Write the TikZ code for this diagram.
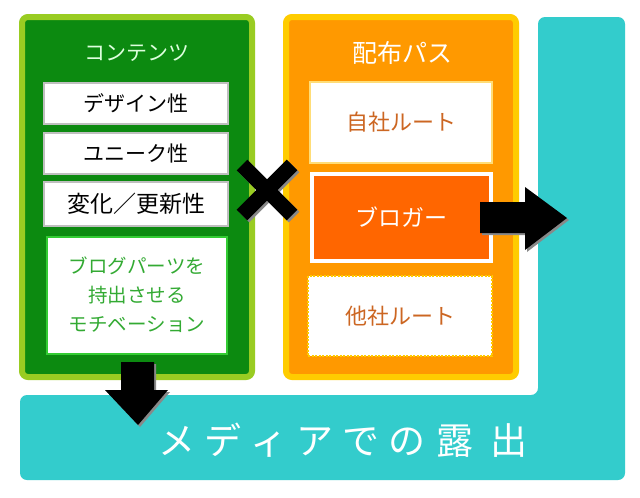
\documentclass[tikz,border=0pt]{standalone}
\usepackage{fontspec}
\setmainfont{Noto Sans CJK JP}
\definecolor{lgreen}{HTML}{99CC22}
\definecolor{dgreen}{HTML}{0C8A10}
\definecolor{pgreen}{HTML}{DDFFDD}
\definecolor{tgreen}{HTML}{33AA33}
\definecolor{bgreen}{HTML}{33CC33}
\definecolor{yborder}{HTML}{FFCC00}
\definecolor{ofill}{HTML}{FF9900}
\definecolor{dorange}{HTML}{FF6600}
\definecolor{otext}{HTML}{CC6622}
\definecolor{lyellow}{HTML}{FFDD77}
\definecolor{teal}{HTML}{33CCCC}
\definecolor{shadowgray}{HTML}{888888}
\tikzset{
  outerbox/.style={line width=6pt, rounded corners=6pt, minimum width=230pt, minimum height=360pt, inner sep=0pt},
  whitebox/.style={draw=black!25, line width=1.5pt, fill=white, inner sep=0pt, font=\fontsize{21}{25}\selectfont},
  routebox/.style={fill=white, inner sep=0pt, minimum width=182pt, text=otext, font=\fontsize{22}{26}\selectfont},
  titletext/.style={font=\fontsize{21}{25}\selectfont},
  bigarrow/.style={fill=black},
  arrowshadow/.style={fill=shadowgray},
}
\begin{document}
\begin{tikzpicture}[x=1pt,y=-1pt]
\useasboundingbox (0,0) rectangle (640,498);
\fill[white] (0,0) rectangle (640,498);
% teal L-shape
\fill[teal, rounded corners=7pt] (538,17) -- (625,17) -- (625,480) -- (20,480) -- (20,395) -- (538,395) -- cycle;
\node[text=white, font=\fontsize{37}{40}\selectfont] (media) at (343,440)
  {メ\hspace{9pt}デ\hspace{9pt}ィ\hspace{9pt}ア\hspace{9pt}で\hspace{9pt}の\hspace{11pt}露\hspace{17pt}出};
% green container
\node[outerbox, draw=lgreen, fill=dgreen] (cont) at (137,197) {};
\node[titletext, text=pgreen] (conttitle) at (137,53) {コンテンツ};
\node[whitebox, minimum width=184pt, minimum height=41pt] (design) at (136,103.5) {デザイン性};
\node[whitebox, minimum width=184pt, minimum height=41pt] (unique) at (136,153.5) {ユニーク性};
\node[whitebox, minimum width=184pt, minimum height=44pt, font=\fontsize{23}{27}\selectfont] (change) at (136,204) {変化／更新性};
\node[draw=bgreen, line width=2pt, fill=white, inner sep=0pt, minimum width=180pt, minimum height=117pt,
      text=tgreen, align=center, font=\fontsize{19.5}{29}\selectfont] (motive) at (137,295)
  {ブログパーツを\\持出させる\\モチベーション};
% orange container
\node[outerbox, draw=yborder, fill=ofill] (path) at (401,197) {};
\node[titletext, text=white, font=\fontsize{25}{29}\selectfont] (pathtitle) at (402,53) {配布パス};
\node[routebox, draw=lyellow, line width=2pt, minimum height=81pt] (own) at (401,122.5) {自社ルート};
\node[draw=white, line width=4pt, fill=dorange, inner sep=0pt, minimum width=179pt, minimum height=87pt,
      text=white, font=\fontsize{23}{27}\selectfont] (blogger) at (401.5,217.5) {ブロガー};
\node[routebox, draw=yborder, line width=2pt, dashed, dash pattern=on 2pt off 1.5pt, minimum height=80pt,
      minimum width=184pt] (other) at (400,316) {他社ルート};
% cross mark
\begin{scope}[line width=15pt]
  \draw[shadowgray] (244,167) -- (294,217);
  \draw[shadowgray] (294,167) -- (244,217);
  \draw[black] (242,165) -- (292,215);
  \draw[black] (292,165) -- (242,215);
\end{scope}
% right arrow
\fill[arrowshadow] (482,204) -- (527,204) -- (527,189) -- (569,220) -- (527,252) -- (527,235) -- (482,235) -- cycle;
\fill[bigarrow] (480,202) -- (525,202) -- (525,187) -- (567,218) -- (525,250) -- (525,233) -- (480,233) -- cycle;
% down arrow
\fill[arrowshadow] (123,364) -- (156,364) -- (156,392) -- (170,392) -- (140,427) -- (107,392) -- (123,392) -- cycle;
\fill[bigarrow] (121,362) -- (154,362) -- (154,390) -- (168,390) -- (138,425) -- (105,390) -- (121,390) -- cycle;
\end{tikzpicture}
\end{document}
